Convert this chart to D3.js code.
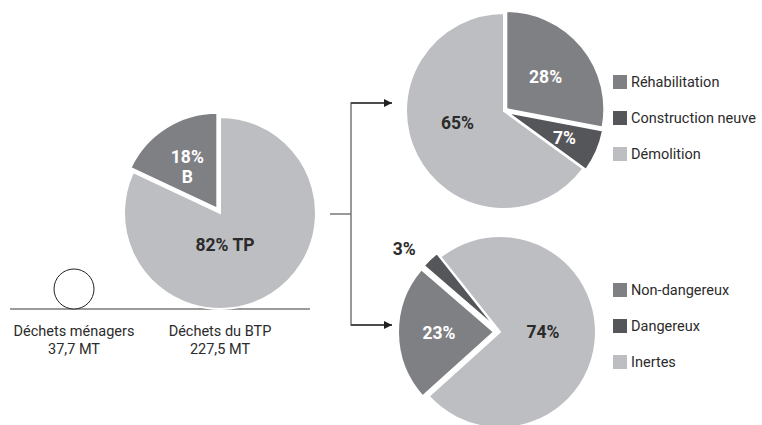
<!DOCTYPE html>
<html>
<head>
<meta charset="utf-8">
<script src="https://cdn.jsdelivr.net/npm/d3@7"></script>
<style>
  body { margin: 0; background: #fff; }
  svg { display: block; font-family: Roboto, "Noto Sans", sans-serif; }
</style>
</head>
<body>
<div id="chart"></div>
<script>
// data
var totals = [
  {name: 'Déchets ménagers', value: '37,7 MT'},
  {name: 'Déchets du BTP', value: '227,5 MT'}
];
var btpCats = ['TP', 'B'];
var btpValues = [82, 18];
var buildCats = ['Réhabilitation', 'Construction neuve', 'Démolition'];
var buildValues = [28, 7, 65];
var typeCats = ['Non-dangereux', 'Dangereux', 'Inertes'];
var typeValues = [23, 3, 74];

// colours
var $mid = '#7f8084';
var $dark = '#55565a';
var $light = '#bdbec1';
var $text = '#2b2b2b';

var width = 762, height = 425;
var rad = Math.PI / 180;

var svg = d3.select('#chart').append('svg')
  .attr('width', width)
  .attr('height', height);

// draw one pie, slices exploded by their offset
function drawPie(opts) {
  var data = opts.values.map(function(v, i) {
    return {cat: opts.cats[i], value: v};
  });
  var pie = d3.pie().sort(null).value(function(d) { return d.value; })
    .startAngle(opts.start * rad).endAngle(opts.start * rad + 2 * Math.PI);
  var arc = d3.arc().innerRadius(0).outerRadius(opts.r);
  var g = svg.append('g').attr('transform', 'translate(' + opts.cx + ',' + opts.cy + ')');

  var arcs = pie(data);
  arcs.forEach(function(a) {
    var mid = (a.startAngle + a.endAngle) / 2;
    var off = opts.offset[a.data.cat] || 0;
    a.ox = Math.sin(mid) * off;
    a.oy = -Math.cos(mid) * off;
  });

  g.selectAll('path')
    .data(arcs)
    .enter().append('path')
    .attr('d', arc)
    .attr('transform', function(d) { return 'translate(' + d.ox + ',' + d.oy + ')'; })
    .attr('fill', function(d) { return opts.color(d.data.cat); })
    .attr('stroke', '#fff')
    .attr('stroke-width', 2)
    .attr('stroke-linejoin', 'miter');

  g.selectAll('text')
    .data(arcs)
    .enter().append('text')
    .each(function(d) {
      var lab = opts.labels[d.data.cat];
      var ang = lab.angle !== undefined ? lab.angle * rad : (d.startAngle + d.endAngle) / 2;
      var x = Math.sin(ang) * lab.r, y = -Math.cos(ang) * lab.r;
      var lines = lab.text || [d.data.value + '%'];
      var t = d3.select(this)
        .attr('text-anchor', 'middle')
        .attr('font-weight', 'bold')
        .attr('font-size', '17.5px')
        .attr('fill', lab.fill);
      lines.forEach(function(line, i) {
        t.append('tspan')
          .attr('x', x)
          .attr('y', y + (i - (lines.length - 1) / 2) * 20)
          .attr('dy', '0.36em')
          .text(line);
      });
    });

  // legend
  if (opts.legend) {
    var lg = svg.append('g').attr('transform', 'translate(' + opts.legend.x + ',' + opts.legend.y + ')');
    var item = lg.selectAll('g')
      .data(opts.cats)
      .enter().append('g')
      .attr('transform', function(d, i) { return 'translate(0,' + i * 36 + ')'; });
    item.append('rect')
      .attr('x', 0).attr('y', -7)
      .attr('width', 14).attr('height', 14)
      .attr('fill', function(d) { return opts.color(d); });
    item.append('text')
      .attr('x', 18).attr('dy', '0.35em')
      .attr('font-size', '14.5px')
      .attr('fill', $text)
      .text(function(d) { return d; });
  }
}

// left: BTP pie + household circle on a baseline
var baseY = 309;
svg.append('line')
  .attr('x1', 10).attr('x2', 310)
  .attr('y1', baseY).attr('y2', baseY)
  .attr('stroke', '#7a7a7a')
  .attr('stroke-width', 1.5);

svg.append('circle')
  .attr('cx', 74).attr('cy', baseY - 20)
  .attr('r', 20)
  .attr('fill', '#fff')
  .attr('stroke', '#222')
  .attr('stroke-width', 1);

drawPie({
  cats: btpCats, values: btpValues,
  cx: 220, cy: baseY - 96, r: 96, start: 0,
  color: d3.scaleOrdinal().domain(btpCats).range([$light, $mid]),
  offset: {B: 5},
  labels: {
    TP: {r: 32, angle: 171, fill: $text, text: ['82% TP']},
    B: {r: 57, angle: -35, fill: '#fff', text: ['18%', 'B']}
  }
});

var totalX = d3.scalePoint().domain(totals.map(function(d) { return d.name; })).range([74, 220]);
var tl = svg.selectAll('.total')
  .data(totals)
  .enter().append('text')
  .attr('class', 'total')
  .attr('text-anchor', 'middle')
  .attr('font-size', '14.5px')
  .attr('fill', $text);
tl.append('tspan')
  .attr('x', function(d) { return totalX(d.name); })
  .attr('y', 336)
  .text(function(d) { return d.name; });
tl.append('tspan')
  .attr('x', function(d) { return totalX(d.name); })
  .attr('y', 354)
  .text(function(d) { return d.value; });

// connector with arrows
svg.append('defs').append('marker')
  .attr('id', 'arrow')
  .attr('viewBox', '0 0 10 10')
  .attr('refX', 10).attr('refY', 5)
  .attr('markerWidth', 8).attr('markerHeight', 8)
  .attr('markerUnits', 'userSpaceOnUse')
  .attr('orient', 'auto')
  .append('path')
  .attr('d', 'M0,0L10,5L0,10Z')
  .attr('fill', '#222');

svg.append('line')
  .attr('x1', 330).attr('x2', 351)
  .attr('y1', 214).attr('y2', 214)
  .attr('stroke', '#777').attr('stroke-width', 1.5);
svg.append('path')
  .attr('d', 'M392,103H351V325H392')
  .attr('fill', 'none')
  .attr('stroke', '#777').attr('stroke-width', 1.5);
[103, 325].forEach(function(y) {
  svg.append('line')
    .attr('x1', 351).attr('x2', 392)
    .attr('y1', y).attr('y2', y)
    .attr('stroke', '#333').attr('stroke-width', 1.5)
    .attr('marker-end', 'url(#arrow)');
});

// top right: building pie
drawPie({
  cats: buildCats, values: buildValues,
  cx: 504, cy: 111, r: 98, start: 0,
  color: d3.scaleOrdinal().domain(buildCats).range([$mid, $dark, $light]),
  offset: {'Réhabilitation': 3, 'Construction neuve': 3},
  labels: {
    'Réhabilitation': {r: 54, fill: '#fff'},
    'Construction neuve': {r: 66, fill: '#fff'},
    'Démolition': {r: 48, angle: 256, fill: $text}
  },
  legend: {x: 613, y: 82}
});

// bottom right: waste type pie
drawPie({
  cats: typeCats, values: typeValues,
  cx: 500, cy: 332, r: 96, start: 228,
  color: d3.scaleOrdinal().domain(typeCats).range([$mid, $dark, $light]),
  offset: {'Non-dangereux': 6, 'Dangereux': 5},
  labels: {
    'Non-dangereux': {r: 61, fill: '#fff'},
    'Dangereux': {r: 127, angle: 311, fill: $text},
    'Inertes': {r: 43, angle: 90, fill: $text}
  },
  legend: {x: 613, y: 290}
});
</script>
</body>
</html>
